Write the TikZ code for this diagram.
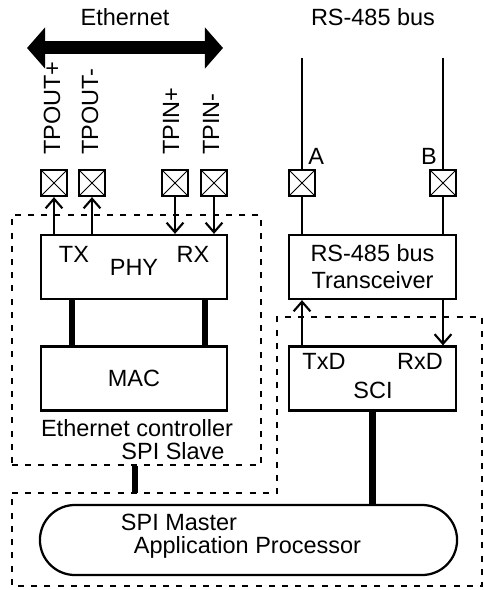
\documentclass[tikz,border=0pt]{standalone}
\usepackage{fontspec}
\setmainfont{Liberation Sans}
\usetikzlibrary{arrows.meta,positioning,calc}

\begin{document}
\begin{tikzpicture}[
  x=0.025cm, y=-0.025cm,
  every node/.style={font=\fontsize{16.7}{19.2}\selectfont},
  block/.style={draw, line width=1.6pt, minimum width=4.65cm, minimum height=1.6cm, align=center},
  pin/.style={draw, line width=1.6pt, minimum size=0.65cm, inner sep=0pt, fill=white,
    path picture={\draw[line width=0.7pt] (path picture bounding box.north west) -- (path picture bounding box.south east)
      (path picture bounding box.south west) -- (path picture bounding box.north east);}},
  region/.style={line width=1.6pt, dash pattern=on 0.15cm off 0.18cm},
  wire/.style={line width=1.5pt},
  arrow/.style={->, line width=1.5pt, >={Straight Barb[width=0.42cm, length=0.24cm]}},
  bus/.style={line width=4.4pt},
  pinlabel/.style={rotate=90, anchor=west, inner sep=0pt}
]
  \useasboundingbox (0,0) rectangle (484,590);

  % Dashed regions
  \node[region, draw, minimum width=6.225cm, minimum height=6.25cm] (ethbox) at (136.5,340) {};
  \draw[region] (12,493) -- (277,493) -- (277,317) -- (482,317) -- (482,586) -- (12,586) -- cycle;

  % Titles
  \node (ethtitle) at (125,17) {Ethernet};
  \node (bustitle) at (373,17) {RS-485 bus};
  \coordinate (ethL) at (27,48);
  \coordinate (ethR) at (223,48);
  \coordinate (busa) at (302,58);
  \coordinate (busb) at (443,58);

  % Pins
  \node[pin] (tpoutp) at (54,183) {};
  \node[pin] (tpoutm) at (92,183) {};
  \node[pin] (tpinp) at (175,183) {};
  \node[pin] (tpinm) at (214,183) {};
  \node[pin] (pina) at (302,183) {};
  \node[pin] (pinb) at (443,183) {};

  \node[pinlabel] (lbltpoutp) at (52,155) {TPOUT+};
  \node[pinlabel] (lbltpoutm) at (90,155) {TPOUT-};
  \node[pinlabel] (lbltpinp) at (171,155) {TPIN+};
  \node[pinlabel] (lbltpinm) at (211,155) {TPIN-};
  \node[anchor=south, inner sep=3pt] (lbla) at (pina.north east) {A};
  \node[anchor=south, inner sep=3pt] (lblb) at (pinb.north west) {B};

  % Blocks
  \node[block] (phy) at (134,267) {PHY};
  \node (tx) at (74,254) {TX};
  \node (rx) at (193,254) {RX};
  \node[block] (mac) at (134,378.5) {MAC};
  \node[block, minimum width=4.175cm] (xcvr) at (372.5,267) {RS-485 bus\\Transceiver};
  \node[block, minimum width=4.175cm] (sci) at (372.5,378.5) {};
  \node (txd) at (324,361) {TxD};
  \node (rxd) at (420,361) {RxD};
  \node (scitxt) at (373,390) {SCI};
  \node (ethctl) at (137,428) {Ethernet controller};
  \node (spislave) at (173,451) {SPI Slave};

  % Application processor
  \node[draw, line width=1.6pt, rounded corners=0.875cm, minimum width=10.425cm, minimum height=1.75cm] (app) at (248.5,540) {};
  \node (spimaster) at (179,522) {SPI Master};
  \node (apptxt) at (247.5,547) {Application Processor};

  % Ethernet cable
  \draw[line width=0.325cm, {Triangle[width=1cm,length=0.45cm]}-{Triangle[width=1cm,length=0.45cm]}] (ethL) -- (ethR);

  % Bus lines
  \draw[wire] (busa) -- (pina);
  \draw[wire] (pina) -- (pina |- xcvr.north);
  \draw[wire] (busb) -- (pinb);
  \draw[wire] (pinb) -- (pinb |- xcvr.north);

  % Arrows
  \draw[arrow] (phy.north -| tpoutp) -- (tpoutp);
  \draw[arrow] (phy.north -| tpoutm) -- (tpoutm);
  \draw[arrow] (tpinp) -- (phy.north -| tpinp);
  \draw[arrow] (tpinm) -- (phy.north -| tpinm);
  \draw[arrow] (sci.north -| pina) -- (xcvr.south -| pina);
  \draw[arrow] (xcvr.south -| pinb) -- (sci.north -| pinb);

  % Thick links
  \draw[bus] ([xshift=0.8cm]phy.south west) -- ([xshift=0.8cm]mac.north west);
  \draw[bus] ([xshift=-0.575cm]phy.south east) -- ([xshift=-0.575cm]mac.north east);
  \draw[bus] (sci.south) -- (sci.south |- app.north);
  \coordinate (spim) at (135,493);
  \draw[bus] (ethbox.south -| spim) -- (spim);
\end{tikzpicture}
\end{document}
